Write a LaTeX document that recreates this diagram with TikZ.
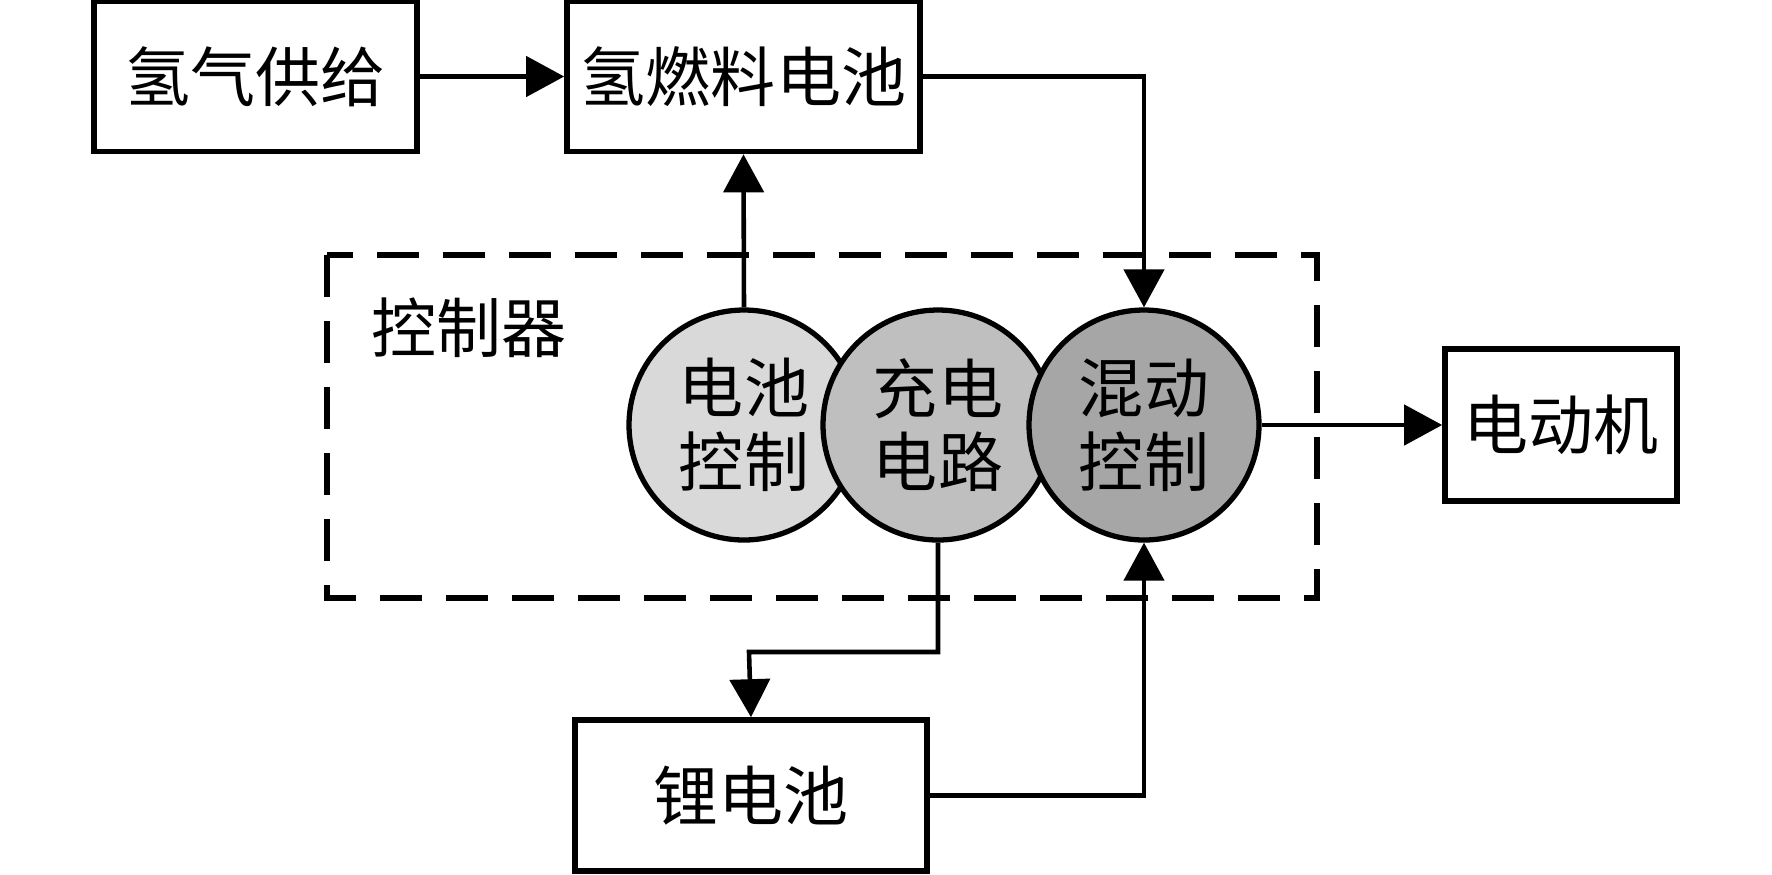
\documentclass[tikz,border=0pt]{standalone}
\usepackage{fontspec}
\newfontfamily\cjk{Noto Sans CJK SC}
\usetikzlibrary{arrows.meta}

\begin{document}
\begin{tikzpicture}[
    >={Triangle[length=0.38cm, width=0.4cm]},
    blk/.style={rectangle, draw, line width=1.6pt, minimum height=1.5cm, inner sep=0pt},
    unit/.style={circle, draw, line width=1.5pt, minimum size=2.3cm, inner sep=0pt, align=center},
    link/.style={->, line width=1.3pt},
    every node/.style={font=\cjk\fontsize{18.5}{21}\selectfont}
]
\useasboundingbox (0,0) rectangle (17.72,-8.74);

% controller frame
\draw[line width=1.5pt, dash pattern=on 0.42cm off 0.24cm] (3.27,-2.55) rectangle (13.17,-5.98);
\node (ctrl) at (4.69,-3.28) {控制器};

\node[blk, minimum width=3.23cm] (h2) at (2.555,-0.765) {氢气供给};
\node[blk, minimum width=3.53cm] (fc) at (7.435,-0.765) {氢燃料电池};
\node[blk, minimum width=2.32cm, minimum height=1.52cm] (motor) at (15.61,-4.25) {电动机};
\node[blk, minimum width=3.52cm, minimum height=1.51cm] (li) at (7.51,-7.955) {锂电池};

\node[unit, fill=black!15] (bc) at (7.44,-4.25) {电池\\控制};
\node[unit, fill=black!25] (cc) at (9.38,-4.25) {充电\\电路};
\node[unit, fill=black!35] (hc) at (11.44,-4.25) {混动\\控制};

\coordinate (turn) at (7.49,-6.52);

\draw[link] (h2) -- (fc);
\draw[link] (bc.north) -- (fc.south);
\draw[link] (fc.east) -| (hc.north);
\draw[link] (hc) -- (motor);
\draw[link] (cc.south) |- (turn) -- (li.north);
\draw[link] (li.east) -| (hc.south);
\end{tikzpicture}
\end{document}
